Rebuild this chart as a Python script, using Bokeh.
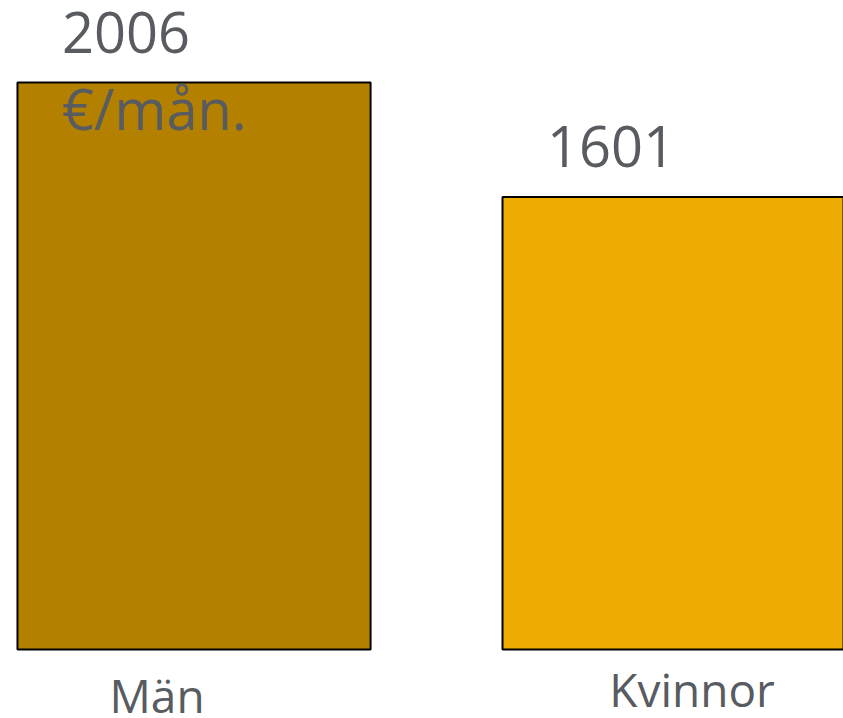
from bokeh.plotting import figure
from bokeh.models import Range1d, ColumnDataSource
from bokeh.core.properties import value
from bokeh.embed import file_html
from bokeh.resources import INLINE

categories = ["Män", "Kvinnor"]
values = [2006, 1601]
value_labels = ["2006", "1601"]
unit_label = "€/mån."
colors = ["#B38000", "#EFAC00"]

xs = list(range(len(categories)))
src = ColumnDataSource(dict(x=xs, top=values, color=colors, lab=value_labels, cat=categories))

p = figure(width=843, height=718, output_backend="svg", toolbar_location=None,
           x_range=Range1d(-0.399, 1.339), y_range=Range1d(-244.1, 2296.1),
           min_border=0, outline_line_color=None)
p.axis.visible = False
p.grid.visible = False
p.background_fill_color = "white"
p.border_fill_color = "white"

p.vbar(x="x", top="top", bottom=0, width=0.728, fill_color="color",
       line_color="black", line_width=2, source=src)

font = value("Open Sans")
tc = "#585B5F"
p.text(x="x", y="top", text="lab", source=src, text_font=font, text_font_size="56px",
       text_color=tc, text_align="left", text_baseline="alphabetic",
       x_offset=-132, y_offset=-50)
p.text(x=[xs[0]], y=[values[0]], text=[unit_label], text_font=font, text_font_size="56px",
       text_color=tc, text_align="left", text_baseline="alphabetic",
       x_offset=-132, y_offset=26)

cat_offsets = [-37, 13]
cat_yoff = [45, 39]
for i, c in enumerate(categories):
    p.text(x=[xs[i]], y=[0], text=[c], text_font=font, text_font_size="46px",
           text_color=tc, text_align="center", text_baseline="alphabetic",
           x_offset=cat_offsets[i], y_offset=cat_yoff[i])

open("out.html", "w").write(file_html(p, INLINE))
